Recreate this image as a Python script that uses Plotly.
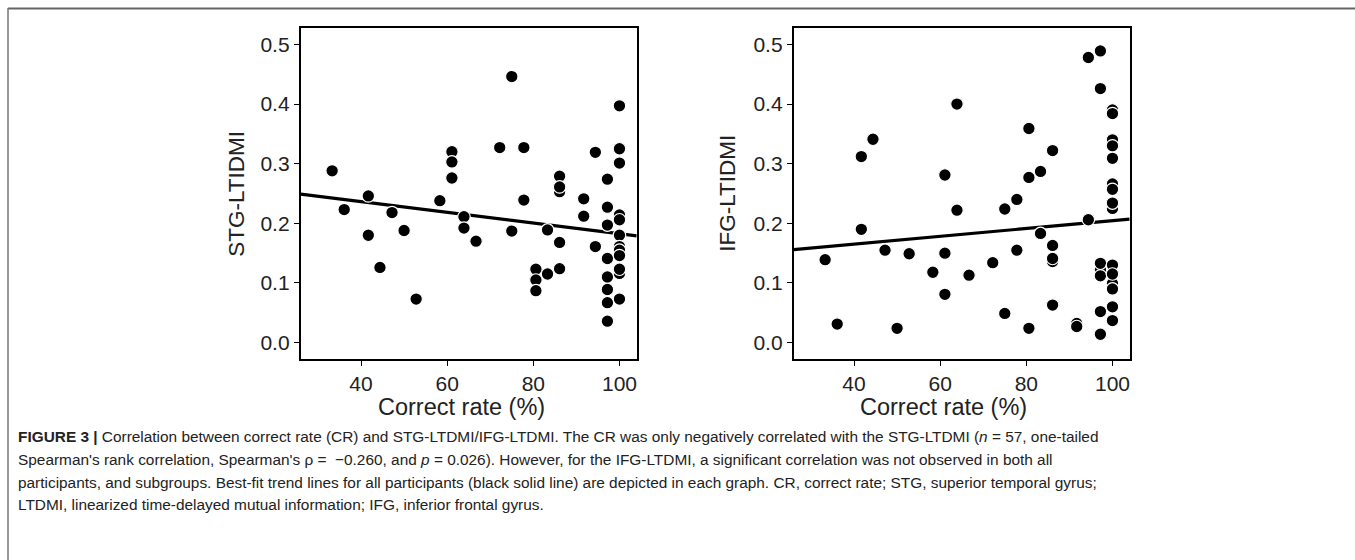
import plotly.graph_objects as go

W, H = 1355, 560

# ---------------- data ----------------
stg_x = [33.3, 36.1, 41.7, 41.7, 44.4, 47.2, 50.0, 52.8, 58.3,
         61.1, 61.1, 61.1, 63.9, 63.9, 66.7, 72.2, 75.0, 75.0,
         77.8, 77.8, 80.6, 80.6, 80.6, 83.3, 83.3,
         86.1, 86.1, 86.1, 86.1, 86.1, 91.7, 91.7, 94.4, 94.4,
         97.2, 97.2, 97.2, 97.2, 97.2, 97.2, 97.2, 97.2,
         100, 100, 100, 100, 100, 100, 100, 100, 100, 100, 100, 100]
stg_y = [0.288, 0.223, 0.246, 0.180, 0.126, 0.218, 0.188, 0.073, 0.238,
         0.320, 0.303, 0.276, 0.211, 0.192, 0.170, 0.327, 0.446, 0.187,
         0.327, 0.239, 0.123, 0.105, 0.087, 0.189, 0.115,
         0.279, 0.253, 0.261, 0.168, 0.124, 0.241, 0.212, 0.319, 0.161,
         0.274, 0.227, 0.197, 0.141, 0.110, 0.089, 0.067, 0.036,
         0.397, 0.325, 0.301, 0.214, 0.206, 0.180, 0.161, 0.155, 0.146, 0.116, 0.123, 0.073]

ifg_x = [33.3, 36.1, 41.7, 41.7, 44.4, 47.2, 50.0, 52.8, 58.3,
         61.1, 61.1, 61.1, 63.9, 63.9, 66.7, 72.2, 75.0, 75.0,
         77.8, 77.8, 80.6, 80.6, 80.6, 83.3, 83.3,
         86.1, 86.1, 86.1, 86.1, 86.1, 91.7, 91.7, 94.4, 94.4,
         97.2, 97.2, 97.2, 97.2, 97.2, 97.2, 97.2,
         100, 100, 100, 100, 100, 100, 100, 100, 100, 100, 100, 100, 100, 100, 100]
ifg_y = [0.139, 0.031, 0.312, 0.190, 0.341, 0.155, 0.024, 0.149, 0.118,
         0.281, 0.150, 0.081, 0.400, 0.222, 0.113, 0.134, 0.224, 0.049,
         0.240, 0.155, 0.359, 0.277, 0.024, 0.287, 0.183,
         0.322, 0.163, 0.136, 0.141, 0.063, 0.032, 0.027, 0.478, 0.206,
         0.489, 0.426, 0.122, 0.133, 0.112, 0.052, 0.014,
         0.390, 0.384, 0.340, 0.330, 0.309, 0.266, 0.257, 0.225, 0.234,
         0.099, 0.130, 0.115, 0.090, 0.060, 0.037]

# best-fit trend lines (end points)
fit_x = [26.0, 104.0]
stg_fit_y = [0.249, 0.179]
ifg_fit_y = [0.156, 0.207]

x_ticks = [40, 60, 80, 100]
y_ticks = [0.0, 0.1, 0.2, 0.3, 0.4, 0.5]
y_tick_text = ["0.0", "0.1", "0.2", "0.3", "0.4", "0.5"]

x_title = "Correct rate (%)"
y_titles = ["STG-LTIDMI", "IFG-LTIDMI"]

caption_lines = [
    "<b>FIGURE 3 |</b> Correlation between correct rate (CR) and STG-LTDMI/IFG-LTDMI. The CR was only negatively correlated with the STG-LTDMI (<i>n</i> = 57, one-tailed",
    "Spearman's rank correlation, Spearman's ρ =  −0.260, and <i>p</i> = 0.026). However, for the IFG-LTDMI, a significant correlation was not observed in both all",
    "participants, and subgroups. Best-fit trend lines for all participants (black solid line) are depicted in each graph. CR, correct rate; STG, superior temporal gyrus;",
    "LTDMI, linearized time-delayed mutual information; IFG, inferior frontal gyrus.",
]

FONT = "Liberation Sans, Arial, Helvetica, sans-serif"

# ---------------- figure ----------------
fig = go.Figure()

panels = [(stg_x, stg_y, stg_fit_y, "x", "y"), (ifg_x, ifg_y, ifg_fit_y, "x2", "y2")]
for xs, ys, fy, xa, ya in panels:
    fig.add_trace(go.Scatter(x=fit_x, y=fy, mode="lines", xaxis=xa, yaxis=ya,
                             line=dict(color="black", width=3.2), hoverinfo="skip",
                             showlegend=False))
    fig.add_trace(go.Scatter(x=xs, y=ys, mode="markers", xaxis=xa, yaxis=ya,
                             marker=dict(color="black", size=12.5,
                                         line=dict(color="white", width=1.2)),
                             showlegend=False))

ydom = [1 - 359.3 / H, 1 - 28.3 / H]
xdoms = [[300.7 / W, 636.7 / W], [793.7 / W, 1129.7 / W]]

axis_common = dict(showgrid=False, zeroline=False, showline=True, linecolor="black",
                   linewidth=1.8, mirror=True, ticks="outside", ticklen=5, tickwidth=1.3,
                   tickcolor="black", tickfont=dict(family=FONT, size=21, color="#222"))

layout = dict(width=W, height=H, autosize=False,
              margin=dict(l=0, r=0, t=0, b=0, pad=0),
              paper_bgcolor="white", plot_bgcolor="white", showlegend=False)

for i, (xd) in enumerate(xdoms):
    sx = "" if i == 0 else str(i + 1)
    layout["xaxis" + sx] = dict(axis_common, domain=xd, range=[26, 104], tickvals=x_ticks,
                                 anchor="y" + sx)
    layout["yaxis" + sx] = dict(axis_common, domain=ydom, range=[-0.028, 0.527],
                                 tickvals=y_ticks, ticktext=y_tick_text, anchor="x" + sx)
fig.update_layout(**layout)

ann = []
# axis titles
for cx in [461, 943]:
    ann.append(dict(x=cx / W, y=1 - 407 / H, xref="paper", yref="paper", text=x_title,
                    showarrow=False, xanchor="center", yanchor="middle",
                    font=dict(family=FONT, size=23.5, color="#222")))
for cx, t in zip([237, 728], y_titles):
    ann.append(dict(x=cx / W, y=1 - 193.8 / H, xref="paper", yref="paper", text=t,
                    textangle=-90, showarrow=False, xanchor="center", yanchor="middle",
                    font=dict(family=FONT, size=22.5, color="#222")))
# caption
for k, (line, cy) in enumerate(zip(caption_lines, [436, 459, 482, 504])):
    ann.append(dict(x=16 / W, y=1 - cy / H, xref="paper", yref="paper", text=line,
                    showarrow=False, xanchor="left", yanchor="middle", align="left",
                    font=dict(family=FONT, size=15.4, color="#222")))
fig.update_layout(annotations=ann)

# frame lines (top and left)
fig.add_shape(type="line", xref="paper", yref="paper", x0=8 / W, x1=1, y0=1 - 8.5 / H,
              y1=1 - 8.5 / H, line=dict(color="#666", width=2))
fig.add_shape(type="line", xref="paper", yref="paper", x0=8 / W, x1=8 / W, y0=1 - 8 / H,
              y1=0, line=dict(color="#777", width=1.5))

fig.write_html("out.html", config={"displayModeBar": False},
               post_script="document.body.style.margin='0';")
